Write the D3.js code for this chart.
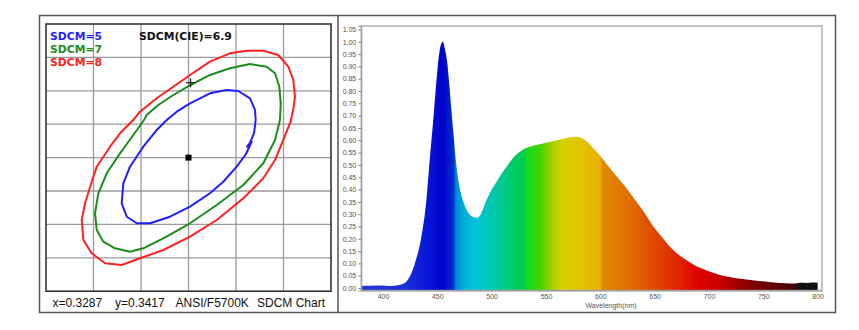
<!DOCTYPE html>
<html>
<head>
<meta charset="utf-8">
<script src="https://cdn.jsdelivr.net/npm/d3@7"></script>
<style>
  body { margin: 0; background: #fff; }
  svg { display: block; }
</style>
</head>
<body>
<svg id="chart" width="859" height="330"></svg>
<script>
// ---- SDCM chart data (CIE 1931 x, y) ----
const CENTER = [0.3287, 0.3417];
const TEST_POINT = [0.32891, 0.35291];
const SDCM_LABEL = "SDCM(CIE)=6.9";
const FOOTER = ["x=0.3287", "y=0.3417", "ANSI/F5700K", "SDCM Chart"];

const SDCM5 = [
  [0.33538,0.34419],[0.33475,0.34224],[0.33377,0.34034],[0.33236,0.33809],[0.33096,0.33636],
  [0.32886,0.33435],[0.32675,0.33285],[0.32465,0.33187],[0.32325,0.33187],[0.32220,0.33285],
  [0.32167,0.33486],[0.32184,0.33785],[0.32254,0.34034],[0.32394,0.34333],[0.32535,0.34583],
  [0.32641,0.34733],[0.32746,0.34857],[0.32886,0.34983],[0.33096,0.35133],[0.33272,0.35182],
  [0.33394,0.35167],[0.33517,0.35058],[0.33570,0.34883],[0.33577,0.34733],[0.33560,0.34538],
  [0.33517,0.34389],[0.33481,0.34321]
];
const SDCM7 = [
  [0.32402,0.34733],[0.32430,0.34808],[0.32552,0.34957],[0.32710,0.35107],[0.32893,0.35257],
  [0.33096,0.35407],[0.33307,0.35507],[0.33517,0.35571],[0.33693,0.35531],[0.33781,0.35432],
  [0.33826,0.35231],[0.33841,0.34983],[0.33833,0.34733],[0.33781,0.34434],[0.33657,0.34085],
  [0.33447,0.33760],[0.33167,0.33460],[0.32886,0.33187],[0.32605,0.32962],[0.32394,0.32812],
  [0.32254,0.32761],[0.32096,0.32812],[0.31973,0.32911],[0.31904,0.33086],[0.31886,0.33336],
  [0.31921,0.33636],[0.32009,0.33935],[0.32149,0.34234],[0.32289,0.34508]
];
const SDCM8 = [
  [0.32289,0.34733],[0.32359,0.34857],[0.32535,0.35058],[0.32710,0.35231],[0.32886,0.35407],
  [0.33096,0.35606],[0.33307,0.35731],[0.33483,0.35770],[0.33657,0.35770],[0.33815,0.35706],
  [0.33921,0.35531],[0.33973,0.35332],[0.33991,0.35082],[0.33973,0.34893],[0.33944,0.34703],
  [0.33868,0.34434],[0.33781,0.34134],[0.33657,0.33860],[0.33447,0.33561],[0.33167,0.33236],
  [0.32886,0.32986],[0.32605,0.32787],[0.32359,0.32663],[0.32167,0.32562],[0.31991,0.32588],
  [0.31851,0.32737],[0.31763,0.32937],[0.31746,0.33236],[0.31781,0.33486],[0.31851,0.33809],
  [0.31904,0.34034],[0.32044,0.34333],[0.32149,0.34534]
];
const ELLIPSES = [
  { name: "SDCM=5", pts: SDCM5, color: "#1f1fff", closed: false },
  { name: "SDCM=7", pts: SDCM7, color: "#1c8c1c", closed: true },
  { name: "SDCM=8", pts: SDCM8, color: "#ff2020", closed: true }
];

// ---- relative spectral power distribution ----
const WAVELENGTH = [380,390,400,405,410,415,420,425,430,435,440,443,445,447,450,452,455,457,459,461,
  463,465,467,470,474,478,482,486,490,495,500,505,510,515,520,525,530,540,550,560,
  570,577,583,588,595,603,610,618,625,632,640,649,657,664,672,679,687,695,703,710,
  725,740,755,770,780,785,790,795,800];
const INTENSITY = [0.008,0.009,0.01,0.008,0.009,0.012,0.02,0.05,0.11,0.2,0.36,0.52,0.62,0.72,0.88,0.96,1.0,0.97,0.92,0.83,
  0.72,0.62,0.52,0.42,0.35,0.31,0.29,0.285,0.3,0.355,0.4,0.435,0.47,0.5,0.53,0.55,0.565,0.58,0.59,0.6,
  0.61,0.614,0.608,0.594,0.56,0.52,0.48,0.438,0.4,0.357,0.31,0.249,0.205,0.168,0.135,0.114,0.092,0.076,0.063,0.053,
  0.04,0.032,0.025,0.019,0.018,0.021,0.02,0.022,0.021];
const X_TICKS = [400,450,500,550,600,650,700,750,800];
const Y_TICKS = [0,0.05,0.1,0.15,0.2,0.25,0.3,0.35,0.4,0.45,0.5,0.55,0.6,0.65,0.7,0.75,0.8,0.85,0.9,0.95,1.0,1.05];

// spectral colour bands for the fill
const BAND_WL = [380,420,440,455,465,467,475,485,495,505,520,530,531,545,555,565,585,600,602,625,650,675,690,710,740,770,780,781,804];
const BAND_COLOR = ["#2038d8","#1a30d8","#0818d8","#0000c8","#0030d0","#0088d8","#00b0d8","#00c4d8","#00c8c0","#00c8a0",
  "#00cc68","#00cc50","#10d820","#40d400","#a0d000","#d8d000","#e4c000","#e8b000","#e08800","#e07000",
  "#e04800","#e02000","#e00000","#c80000","#800000","#500000","#400000","#101010","#101010"];

const svg = d3.select("#chart");

// outer frame and divider
svg.append("rect").attr("x", 39.5).attr("y", 15.5).attr("width", 796).attr("height", 297)
  .attr("fill", "none").attr("stroke", "#555").attr("stroke-width", 1.5);
svg.append("line").attr("x1", 338).attr("x2", 338).attr("y1", 15.5).attr("y2", 312.5)
  .attr("stroke", "#555").attr("stroke-width", 1.5);

// ================= SDCM panel =================
const gridStep = 0.005;
const cx = d3.scaleLinear().domain([CENTER[0] - 3 * gridStep, CENTER[0] + 3 * gridStep]).range([46, 331]);
const cy = d3.scaleLinear().domain([CENTER[1] - 4 * gridStep, CENTER[1] + 4 * gridStep]).range([291.2, 24]);
const left = svg.append("g");

const gx = d3.range(1, 6).map(i => cx.domain()[0] + i * gridStep);
const gy = d3.range(1, 8).map(i => cy.domain()[0] + i * gridStep);
left.selectAll("line.gx").data(gx).join("line").attr("class", "gx")
  .attr("x1", d => cx(d)).attr("x2", d => cx(d)).attr("y1", cy.range()[1]).attr("y2", cy.range()[0])
  .attr("stroke", "#9a9a9a").attr("stroke-width", 1.3);
left.selectAll("line.gy").data(gy).join("line").attr("class", "gy")
  .attr("y1", d => cy(d)).attr("y2", d => cy(d)).attr("x1", cx.range()[0]).attr("x2", cx.range()[1])
  .attr("stroke", "#9a9a9a").attr("stroke-width", 1.3);

ELLIPSES.forEach(e => {
  const line = d3.line().x(d => cx(d[0])).y(d => cy(d[1]))
    .curve(e.closed ? d3.curveLinearClosed : d3.curveLinear);
  left.append("path").attr("d", line(e.pts)).attr("fill", "none")
    .attr("stroke", e.color).attr("stroke-width", 2).attr("stroke-linejoin", "round");
});

// centre point and measured point
left.append("rect").attr("x", cx(CENTER[0]) - 3).attr("y", cy(CENTER[1]) - 3)
  .attr("width", 6).attr("height", 6).attr("fill", "#000");
const tpx = cx(TEST_POINT[0]), tpy = cy(TEST_POINT[1]);
left.append("path").attr("d", `M${tpx - 4.5},${tpy}H${tpx + 4.5}M${tpx},${tpy - 4.5}V${tpy + 4.5}`)
  .attr("stroke", "#222").attr("stroke-width", 1.3);

left.append("rect").attr("x", 46).attr("y", 24).attr("width", 285).attr("height", 267.2)
  .attr("fill", "none").attr("stroke", "#333").attr("stroke-width", 1.6);

// legend
left.selectAll("text.leg").data(ELLIPSES).join("text").attr("class", "leg")
  .attr("x", 50).attr("y", (d, i) => 40 + i * 13)
  .attr("fill", d => d.color)
  .attr("font-family", "DejaVu Sans").attr("font-weight", "bold").attr("font-size", 10.8)
  .text(d => d.name);
left.append("text").attr("x", 139).attr("y", 40)
  .attr("font-family", "DejaVu Sans").attr("font-weight", "bold").attr("font-size", 10.8)
  .attr("fill", "#111").text(SDCM_LABEL);

const footX = [52.5, 115, 175.5, 257];
left.selectAll("text.foot").data(FOOTER).join("text").attr("class", "foot")
  .attr("x", (d, i) => footX[i]).attr("y", 306.5)
  .attr("font-family", "Liberation Sans, Arial").attr("font-size", 12).attr("fill", "#111")
  .text(d => d);

// ================= spectrum panel =================
const sx = d3.scaleLinear().domain([380, 804]).range([361.25, 822]);
const sy = d3.scaleLinear().domain([-0.01, 1.064]).range([290.5, 26]);
const right = svg.append("g");

const defs = svg.append("defs");
const grad = defs.append("linearGradient").attr("id", "spectrumFill")
  .attr("gradientUnits", "userSpaceOnUse")
  .attr("x1", sx(380)).attr("x2", sx(804)).attr("y1", 0).attr("y2", 0);
grad.selectAll("stop").data(BAND_WL).join("stop")
  .attr("offset", d => (d - 380) / (804 - 380))
  .attr("stop-color", (d, i) => BAND_COLOR[i]);

const spectrum = WAVELENGTH.map((w, i) => [w, INTENSITY[i]]);
const area = d3.area().x(d => sx(d[0])).y0(sy(sy.domain()[0])).y1(d => sy(d[1])).curve(d3.curveMonotoneX);
right.append("path").attr("d", area(spectrum)).attr("fill", "url(#spectrumFill)");

right.append("rect").attr("x", sx.range()[0]).attr("y", sy.range()[1])
  .attr("width", sx.range()[1] - sx.range()[0]).attr("height", sy.range()[0] - sy.range()[1])
  .attr("fill", "none").attr("stroke", "#aaa").attr("stroke-width", 1.4);

const yAxis = right.append("g").attr("transform", `translate(${sx.range()[0]},0)`)
  .call(d3.axisLeft(sy).tickValues(Y_TICKS).tickFormat(d3.format(".2f")).tickSize(3).tickPadding(2));
const xAxis = right.append("g").attr("transform", `translate(0,${sy.range()[0]})`)
  .call(d3.axisBottom(sx).tickValues(X_TICKS).tickFormat(d3.format("d")).tickSize(0).tickPadding(4));
[yAxis, xAxis].forEach(a => {
  a.select(".domain").attr("stroke", "#999");
  a.selectAll(".tick line").attr("stroke", "#888");
  a.selectAll("text").attr("font-family", "Liberation Sans, Arial").attr("font-size", 7).attr("fill", "#555");
});

right.append("text").attr("x", 611).attr("y", 308).attr("text-anchor", "middle")
  .attr("font-family", "Liberation Sans, Arial").attr("font-size", 7).attr("fill", "#555")
  .text("Wavelength(nm)");
</script>
</body>
</html>
